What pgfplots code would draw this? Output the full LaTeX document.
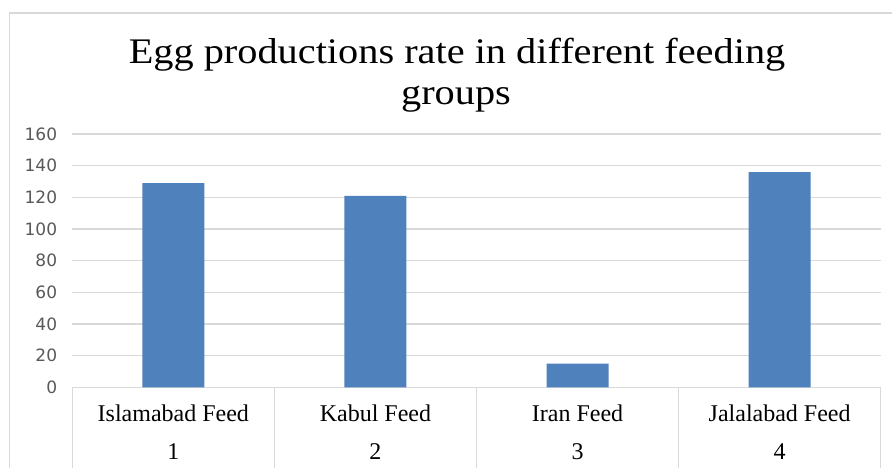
\documentclass[border=0pt]{standalone}
\usepackage{pgfplots}
\pgfplotsset{compat=1.18}
\usepackage{fontspec}
\setmainfont{Liberation Serif}
\newfontfamily\titlefont[FakeStretch=1.12]{Liberation Serif}
\newfontfamily\ticksans{DejaVu Sans}
\definecolor{barblue}{HTML}{4F81BD}
\definecolor{gridgray}{HTML}{D9D9D9}
\definecolor{ticktext}{HTML}{595959}

\begin{document}
\begin{tikzpicture}[x=1pt,y=1pt]
\useasboundingbox (0,0) rectangle (892,468);
\fill[white] (0,0) rectangle (892,468);
% chart frame
\draw[gridgray, line width=1.5pt] (9.5,0) -- (9.5,455) -- (895,455);
% title, two lines
\node[font=\titlefont\fontsize{36}{36}\selectfont, anchor=base, inner sep=0pt] at (457,404)
  {Egg productions rate in different feeding};
\node[font=\titlefont\fontsize{36}{36}\selectfont, anchor=base, inner sep=0pt] at (456,363)
  {groups};
\begin{axis}[
  at={(72.3pt,80.5pt)}, anchor=south west,
  scale only axis, width=808.4pt, height=253.5pt,
  xmin=0.5, xmax=4.5, ymin=0, ymax=160,
  ytick={0,20,...,160},
  xtick={1,2,3,4},
  xticklabels={{Islamabad Feed\\1},{Kabul Feed\\2},{Iran Feed\\3},{Jalalabad Feed\\4}},
  ymajorgrids, grid style={gridgray, line width=1.3pt},
  axis line style={draw=none},
  major tick length=0pt,
  xtick pos=bottom, ytick pos=left,
  /pgf/number format/assume math mode=true,
  yticklabel style={font=\ticksans\fontsize{17}{17}\selectfont, text=ticktext,
    inner sep=0pt, anchor=east, xshift=-15pt},
  xticklabel style={font=\fontsize{24}{38.5}\selectfont, align=center,
    inner sep=0pt, anchor=north, yshift=-17pt},
  extra x ticks={0.5,1.5,2.5,3.5,4.5},
  extra x tick labels={},
  extra x tick style={major tick length=82pt, tick align=outside,
    tick style={gridgray, line width=1.3pt}},
  clip=false,
]
\addplot[ybar, bar width=0.307, fill=barblue, draw=none]
  coordinates {(1,129) (2,121) (3,15) (4,136)};
\end{axis}
\end{tikzpicture}
\end{document}
